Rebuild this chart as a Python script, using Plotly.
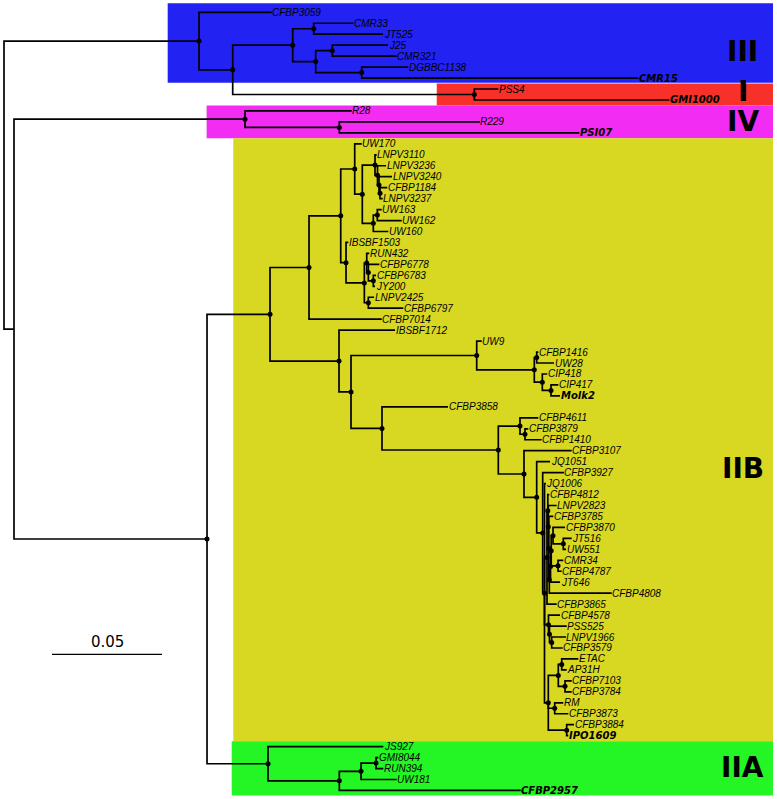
import plotly.graph_objects as go

# ---------------- DATA: tree edges (node, parent, branch length in substitutions/site) ----------------
backbone = [
    ("root", None, 0.0),
    ("n_A0", "root", 0.08864),
    ("n_B", "root", 0.00455),
    ("n_C", "n_B", 0.08773),
]
clade_III_edges = [
    ("CFBP3059", "n_A0", 0.03305),
    ("n_AA", "n_A0", 0.01532),
    ("n_AB", "n_AA", 0.02727),
    ("n_AC", "n_AB", 0.00955),
    ("CMR33", "n_AC", 0.01800),
    ("JT525", "n_AC", 0.03150),
    ("n_AD", "n_AB", 0.01045),
    ("n_AE", "n_AD", 0.00755),
    ("J25", "n_AE", 0.02532),
    ("CMR321", "n_AE", 0.02927),
    ("n_AF", "n_AD", 0.02091),
    ("DGBBC1138", "n_AF", 0.02118),
    ("CMR15", "n_AF", 0.12573),
]
clade_I_edges = [
    ("n_I", "n_AA", 0.10982),
    ("PSS4", "n_I", 0.01091),
    ("GMI1000", "n_I", 0.08864),
]
clade_IV_edges = [
    ("n_IV", "n_B", 0.10500),
    ("R28", "n_IV", 0.04850),
    ("n_IV2", "n_IV", 0.04286),
    ("R229", "n_IV2", 0.06395),
    ("PSI07", "n_IV2", 0.10909),
]
clade_IIB_upper_edges = [
    ("n_IIB", "n_C", 0.02864),
    ("n_D", "n_IIB", 0.01773),
    ("n_E", "n_D", 0.01441),
    ("n_F", "n_E", 0.00636),
    ("UW170", "n_F", 0.00318),
    ("n_H", "n_F", 0.00345),
    ("n_I1", "n_H", 0.00577),
    ("LNPV3110", "n_I1", 0.00077),
    ("n_I2", "n_I1", 0.00114),
    ("LNPV3236", "n_I2", 0.00386),
    ("n_I3", "n_I2", 0.00068),
    ("LNPV3240", "n_I3", 0.00591),
    ("n_I4", "n_I3", 0.00045),
    ("CFBP1184", "n_I4", 0.00332),
    ("LNPV3237", "n_I4", 0.00123),
    ("n_J", "n_H", 0.00500),
    ("n_K", "n_J", 0.00182),
    ("UW163", "n_K", 0.00200),
    ("UW162", "n_K", 0.01109),
    ("UW160", "n_J", 0.00682),
    ("n_G", "n_E", 0.00241),
    ("IBSBF1503", "n_G", 0.00105),
    ("n_L", "n_G", 0.00832),
    ("n_M", "n_L", 0.00109),
    ("RUN432", "n_M", 0.00118),
    ("n_M1", "n_M", 0.00073),
    ("CFBP6778", "n_M1", 0.00500),
    ("n_M2", "n_M1", 0.00227),
    ("CFBP6783", "n_M2", 0.00123),
    ("JY200", "n_M2", 0.00077),
    ("n_N", "n_L", 0.00182),
    ("LNPV2425", "n_N", 0.00259),
    ("CFBP6797", "n_N", 0.01591),
    ("CFBP7014", "n_D", 0.03305),
    ("n_O", "n_IIB", 0.03136),
    ("IBSBF1712", "n_O", 0.02545),
    ("n_P", "n_O", 0.00545),
    ("n_Q", "n_P", 0.05714),
    ("UW9", "n_Q", 0.00227),
    ("n_S", "n_Q", 0.02618),
    ("n_T", "n_S", 0.00109),
    ("CFBP1416", "n_T", 0.00073),
    ("UW28", "n_T", 0.00786),
    ("n_U", "n_S", 0.00364),
    ("CIP418", "n_U", 0.00227),
    ("n_V", "n_U", 0.00395),
    ("CIP417", "n_V", 0.00332),
    ("Molk2", "n_V", 0.00409),
]
clade_IIB_lower_edges = [
    ("n_R", "n_P", 0.01409),
    ("CFBP3858", "n_R", 0.03000),
    ("n_W", "n_R", 0.05286),
    ("n_X", "n_W", 0.00986),
    ("CFBP4611", "n_X", 0.00832),
    ("n_X2", "n_X", 0.00227),
    ("CFBP3879", "n_X2", 0.00150),
    ("CFBP1410", "n_X2", 0.00759),
    ("n_Y", "n_W", 0.01168),
    ("CFBP3107", "n_Y", 0.02168),
    ("n_Z", "n_Y", 0.00577),
    ("JQ1051", "n_Z", 0.00605),
    ("n_Z2", "n_Z", 0.00273),
    ("CFBP3927", "n_Z2", 0.00968),
    ("n_Z3", "n_Z2", 0.00082),
    ("JQ1006", "n_Z3", 0.00068),
    ("n_A", "n_Z3", 0.00114),
    ("n_A1", "n_A", 0.00036),
    ("CFBP4812", "n_A1", 0.00068),
    ("n_A2", "n_A1", 0.00023),
    ("LNPV2823", "n_A2", 0.00382),
    ("n_A3", "n_A2", 0.00023),
    ("CFBP3785", "n_A3", 0.00205),
    ("n_A4", "n_A3", 0.00023),
    ("n_A5", "n_A4", 0.00055),
    ("n_A6", "n_A5", 0.00032),
    ("n_A7", "n_A6", 0.00082),
    ("CFBP3870", "n_A7", 0.00545),
    ("n_A7b", "n_A7", 0.00468),
    ("JT516", "n_A7b", 0.00382),
    ("UW551", "n_A7b", 0.00123),
    ("n_A8", "n_A6", 0.00309),
    ("CMR34", "n_A8", 0.00241),
    ("CFBP4787", "n_A8", 0.00168),
    ("JT646", "n_A5", 0.00432),
    ("CFBP4808", "n_A4", 0.02836),
    ("CFBP3865", "n_A", 0.00441),
    ("n_B1", "n_Z3", 0.00182),
    ("CFBP4578", "n_B1", 0.00523),
    ("n_B1a", "n_B1", 0.00045),
    ("PSS525", "n_B1a", 0.00782),
    ("n_B1b", "n_B1a", 0.00100),
    ("LNPV1966", "n_B1b", 0.00650),
    ("CFBP3579", "n_B1b", 0.00500),
    ("n_Z4", "n_Z3", 0.00173),
    ("n_B3", "n_Z4", 0.00455),
    ("n_B3a", "n_B3", 0.00155),
    ("ETAC", "n_B3a", 0.00755),
    ("AP31H", "n_B3a", 0.00227),
    ("n_B3b", "n_B3", 0.00305),
    ("CFBP7103", "n_B3b", 0.00305),
    ("CFBP3784", "n_B3b", 0.00305),
    ("n_B4a", "n_Z4", 0.00291),
    ("RM", "n_B4a", 0.00391),
    ("CFBP3873", "n_B4a", 0.00618),
    ("n_B4b", "n_Z4", 0.00836),
    ("CFBP3884", "n_B4b", 0.00332),
    ("IPO1609", "n_B4b", 0.00073),
]
clade_IIA_edges = [
    ("n_IIA", "n_C", 0.02773),
    ("JS927", "n_IIA", 0.05241),
    ("n_IIA2", "n_IIA", 0.03241),
    ("n_IIA3", "n_IIA2", 0.00986),
    ("n_IIA4", "n_IIA3", 0.00682),
    ("GMI8044", "n_IIA4", 0.00105),
    ("RUN394", "n_IIA4", 0.00332),
    ("UW181", "n_IIA3", 0.01623),
    ("CFBP2957", "n_IIA2", 0.08245),
]

bold_leaves = ["CMR15", "GMI1000", "PSI07", "Molk2", "IPO1609", "CFBP2957"]
nodes_without_dot = ["root", "n_B"]

clade_names = ["III", "I", "IV", "IIB", "IIA"]
clade_first_leaf = ["CFBP3059", "PSS4", "R28", "UW170", "JS927"]
clade_last_leaf = ["CMR15", "GMI1000", "PSI07", "IPO1609", "CFBP2957"]

scale_bar_length = 0.05
scale_bar_label = "0.05"

# ---------------- STYLE / LAYOUT ----------------
PX_PER_UNIT = 2200.0
LEAF_TOP_PX = 12.3
LEAF_STEP_PX = 10.96
W, H = 777, 799

clade_colors = ["#2222f2", "#f8302a", "#f22cf2", "#d8d823", "#24f524"]
clade_box_left = [0.0744, 0.1967, 0.0921, 0.1042, 0.1035]
clade_box_top_pad = [0.82, 0.5, 0.5, 0.5, 0.5]
clade_box_bottom_pad = [0.42, 0.5, 0.5, 0.5, 0.45]
clade_label_y = [3.6, 7.27, 9.92, 41.6, 68.9]
clade_label_x = 0.3359
box_right = 0.34955

scale_bar_x0 = 0.02182
scale_bar_y = 58.58
scale_label_y = 57.45

# ---------------- build tree ----------------
edges = (backbone + clade_III_edges + clade_I_edges + clade_IV_edges
         + clade_IIB_upper_edges + clade_IIB_lower_edges + clade_IIA_edges)
parent = {}
length = {}
children = {}
order = []
for name, par, bl in edges:
    parent[name] = par
    length[name] = bl
    order.append(name)
    children.setdefault(name, [])
    if par is not None:
        children.setdefault(par, []).append(name)

# backbone children ordered top -> bottom
children["root"] = ["n_A0", "n_B"]
children["n_B"] = ["n_IV", "n_C"]
children["n_C"] = ["n_IIB", "n_IIA"]
children["n_A0"] = ["CFBP3059", "n_AA"]
children["n_AA"] = ["n_AB", "n_I"]

xpos = {}
ypos = {}
leaves = []


def place_x(n, x):
    xpos[n] = x
    for c in children[n]:
        place_x(c, x + length[c])


def place_y(n):
    if not children[n]:
        ypos[n] = len(leaves)
        leaves.append(n)
        return ypos[n]
    ys = [place_y(c) for c in children[n]]
    ypos[n] = (ys[0] + ys[-1]) / 2.0
    return ypos[n]


place_x("root", 0.0)
place_y("root")

# ---------------- figure ----------------
fig = go.Figure()

shapes = []
for i, cname in enumerate(clade_names):
    y0 = ypos[clade_first_leaf[i]] - clade_box_top_pad[i]
    y1 = ypos[clade_last_leaf[i]] + clade_box_bottom_pad[i]
    shapes.append(dict(type="rect", xref="x", yref="y", x0=clade_box_left[i], x1=box_right,
                       y0=y0, y1=y1, fillcolor=clade_colors[i], line=dict(width=0), layer="below"))

bx, by = [], []
for n in order:
    p = parent[n]
    if p is None:
        continue
    bx += [xpos[p], xpos[p], xpos[n], None]
    by += [ypos[p], ypos[n], ypos[n], None]
fig.add_trace(go.Scatter(x=bx, y=by, mode="lines", line=dict(color="black", width=1.7),
                         hoverinfo="skip", showlegend=False))

dx = [xpos[n] for n in order if children[n] and n not in nodes_without_dot]
dy = [ypos[n] for n in order if children[n] and n not in nodes_without_dot]
fig.add_trace(go.Scatter(x=dx, y=dy, mode="markers", marker=dict(color="black", size=5),
                         hoverinfo="skip", showlegend=False))

# scale bar
fig.add_trace(go.Scatter(x=[scale_bar_x0, scale_bar_x0 + scale_bar_length], y=[scale_bar_y, scale_bar_y],
                         mode="lines", line=dict(color="black", width=1.3), hoverinfo="skip", showlegend=False))

annotations = []
for lf in leaves:
    if lf in bold_leaves:
        txt = "<b><i>%s</i></b>" % lf
        font = dict(family="DejaVu Sans", size=10, color="black")
    else:
        txt = "<i>%s</i>" % lf
        font = dict(family="Liberation Sans", size=10, color="black")
    annotations.append(dict(x=xpos[lf], y=ypos[lf], xref="x", yref="y", text=txt, showarrow=False,
                            xanchor="left", yanchor="middle", font=font, borderpad=0, xshift=-0.5))

for i, cname in enumerate(clade_names):
    annotations.append(dict(x=clade_label_x, y=clade_label_y[i], xref="x", yref="y",
                            text="<b>%s</b>" % cname, showarrow=False, xanchor="center", yanchor="middle",
                            font=dict(family="DejaVu Sans", size=28, color="black")))

annotations.append(dict(x=scale_bar_x0 + scale_bar_length / 2, y=scale_label_y, xref="x", yref="y",
                        text=scale_bar_label, showarrow=False, xanchor="center", yanchor="middle",
                        font=dict(family="DejaVu Sans", size=15, color="black")))

x0 = -4.0 / PX_PER_UNIT
x1 = x0 + W / PX_PER_UNIT
ytop = -LEAF_TOP_PX / LEAF_STEP_PX
ybot = (H - LEAF_TOP_PX) / LEAF_STEP_PX

fig.update_layout(
    width=W, height=H, margin=dict(l=0, r=0, t=0, b=0),
    paper_bgcolor="white", plot_bgcolor="white",
    xaxis=dict(range=[x0, x1], visible=False, fixedrange=True),
    yaxis=dict(range=[ybot, ytop], visible=False, fixedrange=True),
    shapes=shapes, annotations=annotations, showlegend=False,
)

fig.write_html(
    "out.html",
    config={"displayModeBar": False},
    post_script="document.body.style.margin='0';document.body.style.padding='0';"
                "document.body.style.overflow='hidden';",
)
